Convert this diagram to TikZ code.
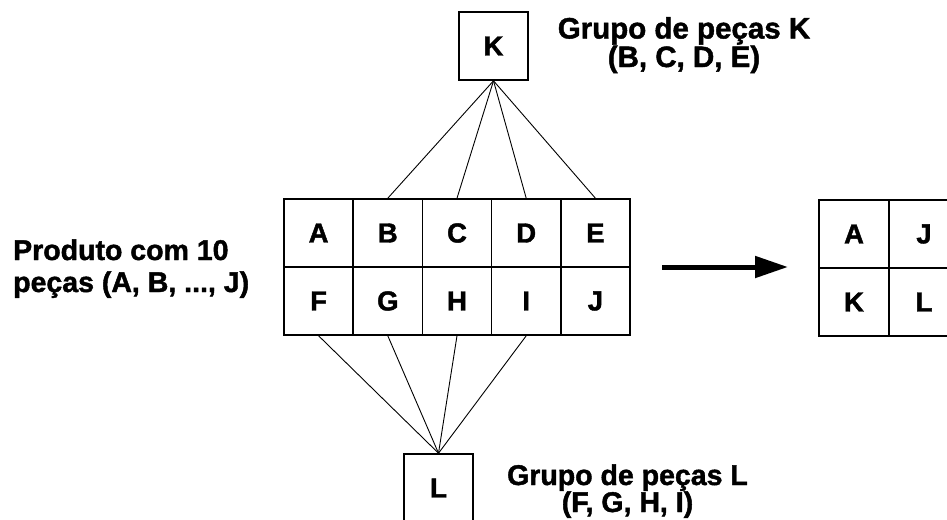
\documentclass[tikz,border=0pt]{standalone}
\usepackage{fontspec}
\setmainfont{Liberation Sans}[BoldFeatures={FakeBold=1.5}]
\usetikzlibrary{arrows.meta}
\begin{document}
\begin{tikzpicture}[x=1pt,y=-1pt,
  cell/.style={draw, line width=1.6pt, minimum width=69.2pt, minimum height=68pt, inner sep=0pt,
    font=\fontsize{27.5}{27.5}\selectfont\bfseries},
  lbl/.style={font=\fontsize{28.5}{27}\selectfont\bfseries, inner sep=0pt},
  link/.style={line width=0.9pt}]
\clip (0,0) rectangle (947,519);
% main grid
\node[cell] (A) at (318.6,233) {A};
\node[cell] (B) at (387.8,233) {B};
\node[cell] (C) at (457.0,233) {C};
\node[cell] (D) at (526.2,233) {D};
\node[cell] (E) at (595.4,233) {E};
\node[cell] (F) at (318.6,301) {F};
\node[cell] (G) at (387.8,301) {G};
\node[cell] (H) at (457.0,301) {H};
\node[cell] (I) at (526.2,301) {I};
\node[cell] (J) at (595.4,301) {J};
% group boxes
\node[cell] (K) at (493.5,46) {K};
\node[cell] (L) at (438.5,488) {L};
% links
\foreach \n in {B,C,D,E} \draw[link] (K.south) -- (\n.north);
\foreach \n in {F,G,H,I} \draw[link] (L.north) -- (\n.south);
% result grid
\node[cell, minimum width=70pt] (RA) at (854,234) {A};
\node[cell, minimum width=70pt] (RJ) at (924,234) {J};
\node[cell, minimum width=70pt] (RK) at (854,302) {K};
\node[cell, minimum width=70pt] (RL) at (924,302) {L};
% arrow
\coordinate (arrS) at (662,267);
\coordinate (arrE) at (788,267);
\draw[line width=5pt, -{Triangle[length=33pt,width=21pt]}] (arrS) -- (arrE);
% labels
\node[lbl, anchor=base west, align=left, font=\fontsize{28.5}{32}\selectfont\bfseries] (prod) at (13,292) {Produto com 10\\peças (A, B, ..., J)};
\node[lbl, anchor=base, align=center, font=\fontsize{29.5}{27}\selectfont\bfseries] (gk) at (684,67) {Grupo de peças K\\(B, C, D, E)};
\node[lbl, anchor=base, align=center] (gl) at (627.5,512) {Grupo de peças L\\(F, G, H, I)};
\end{tikzpicture}
\end{document}
